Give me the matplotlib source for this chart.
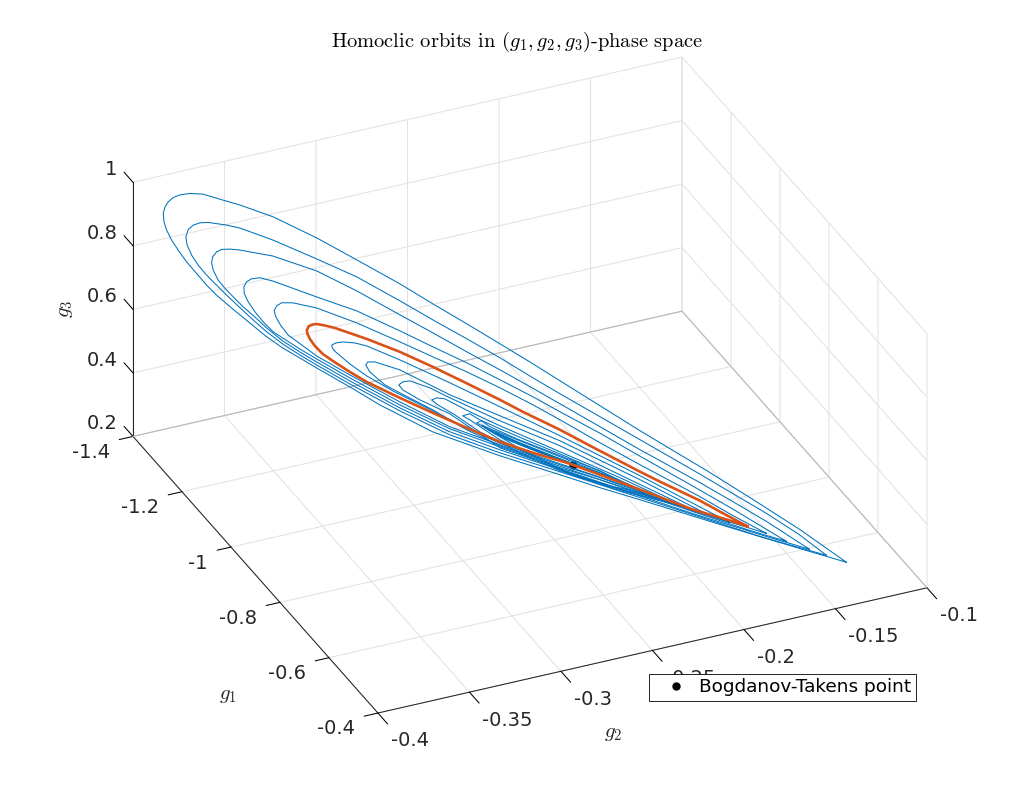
import matplotlib
matplotlib.use('Agg')
import matplotlib.pyplot as plt
from mpl_toolkits.mplot3d import Axes3D  # noqa

plt.rcParams['mathtext.fontset'] = 'cm'
plt.rcParams['axes.formatter.use_mathtext'] = True

BLUE = '#0072BD'
ORANGE = '#D95319'
DARK = '#262626'

g1_ticks = [-1.4, -1.2, -1.0, -0.8, -0.6, -0.4]
g1_labels = ['-1.4', '-1.2', '-1', '-0.8', '-0.6', '-0.4']
g2_ticks = [-0.4, -0.35, -0.3, -0.25, -0.2, -0.15, -0.1]
g2_labels = ['-0.4', '-0.35', '-0.3', '-0.25', '-0.2', '-0.15', '-0.1']
g3_ticks = [0.2, 0.4, 0.6, 0.8, 1.0]
g3_labels = ['0.2', '0.4', '0.6', '0.8', '1']

# Bogdanov-Takens point
bt_g1 = [-0.8544]
bt_g2 = [-0.2328]
bt_g3 = [0.3664]

# orbits, from the tip over the top and back along the bottom
a_g1 = [-.5146, -.5729, -.6349, -.6882, -.7217, -.7713, -.8209, -.8705, -.904, -.9449, -.9858, -1.028, -1.0689, -1.1222, -1.1718, -1.2264, -1.2673, -1.2884, -1.3132, -1.3293, -1.3417, -1.35, -1.3562, -1.3603, -1.3624, -1.3616, -1.3582, -1.352, -1.3438, -1.3334, -1.321, -1.3086, -1.2962, -1.276, -1.2549, -1.2351, -1.214, -1.1929, -1.1718, -1.1309, -1.0937, -1.028, -.9449, -.8705, -.8209, -.7676, -.6634, -.5816, -.5146]
a_g2 = [-.1287, -.1465, -.1655, -.1819, -.1921, -.2073, -.2225, -.2377, -.248, -.2605, -.2731, -.286, -.2985, -.3149, -.3301, -.3468, -.3593, -.3658, -.3734, -.3783, -.3821, -.3847, -.3866, -.3878, -.3885, -.3882, -.3872, -.3853, -.3828, -.3796, -.3758, -.372, -.3682, -.362, -.3555, -.3495, -.343, -.3365, -.3301, -.3175, -.3061, -.286, -.2605, -.2377, -.2225, -.2062, -.1743, -.1492, -.1287]
a_g3 = [.2183, .2948, .3663, .4261, .4606, .5129, .5682, .6235, .6612, .7049, .7485, .7916, .8353, .8857, .9315, .9728, .9904, .9961, 1.0033, .9979, .9876, .9755, .9587, .9411, .9193, .8932, .8686, .8401, .8124, .7805, .7498, .7189, .6932, .6586, .6246, .5929, .5651, .5436, .522, .4816, .4424, .3884, .3521, .3273, .3099, .2941, .2614, .2371, .2183]

b_g1 = [-.5394, -.5729, -.6138, -.656, -.6969, -.7713, -.8209, -.8705, -.904, -.9449, -.9858, -1.028, -1.0689, -1.1222, -1.1718, -1.2264, -1.2673, -1.2838, -1.3066, -1.3169, -1.3252, -1.3314, -1.3343, -1.3327, -1.3272, -1.319, -1.3086, -1.2962, -1.2838, -1.2549, -1.2351, -1.214, -1.1929, -1.1718, -1.1309, -1.0689, -1.0069, -.9449, -.8705, -.8209, -.7056, -.6225, -.5394]
b_g2 = [-.1363, -.1465, -.1591, -.172, -.1845, -.2073, -.2225, -.2377, -.248, -.2605, -.2731, -.286, -.2985, -.3149, -.3301, -.3468, -.3593, -.3644, -.3714, -.3745, -.3771, -.379, -.3799, -.3794, -.3777, -.3752, -.372, -.3682, -.3644, -.3555, -.3495, -.343, -.3365, -.3301, -.3175, -.2985, -.2795, -.2605, -.2377, -.2225, -.1872, -.1617, -.1363]
b_g3 = [.2287, .2775, .3258, .3689, .411, .4845, .5336, .5825, .6171, .6608, .7013, .7412, .7818, .8322, .8654, .8994, .9179, .9196, .9173, .9112, .9, .8835, .8589, .8335, .8046, .777, .7504, .7247, .6991, .6435, .6087, .5777, .5531, .5315, .491, .4353, .389, .3615, .3368, .3193, .2793, .2492, .2287]

c_g1 = [-.5605, -.6138, -.656, -.6969, -.7713, -.8209, -.8705, -.904, -.9449, -.9858, -1.028, -1.0689, -1.1222, -1.1718, -1.2264, -1.2673, -1.2797, -1.29, -1.2962, -1.3012, -1.3024, -1.3004, -1.2942, -1.2859, -1.2756, -1.2632, -1.2487, -1.2326, -1.214, -1.1929, -1.1718, -1.1309, -1.0689, -1.0069, -.9449, -.8705, -.8209, -.7056, -.6225, -.5605]
c_g2 = [-.1427, -.1591, -.172, -.1845, -.2073, -.2225, -.2377, -.248, -.2605, -.2731, -.286, -.2985, -.3149, -.3301, -.3468, -.3593, -.3631, -.3663, -.3682, -.3697, -.3701, -.3695, -.3676, -.365, -.3619, -.3581, -.3536, -.3487, -.343, -.3365, -.3301, -.3175, -.2985, -.2795, -.2605, -.2377, -.2225, -.1872, -.1617, -.1427]
c_g3 = [.2376, .3006, .3437, .3842, .453, .5021, .551, .584, .623, .6603, .7003, .7377, .7881, .8276, .849, .8486, .8459, .8401, .8295, .8115, .792, .77, .7414, .7192, .6976, .6719, .6464, .6162, .5872, .5625, .5409, .5005, .4447, .3984, .371, .3431, .3256, .2825, .2555, .2376]

d_g1 = [-.589, -.656, -.6969, -.7713, -.8209, -.8705, -.904, -.9449, -.9858, -1.028, -1.0689, -1.1222, -1.1718, -1.2264, -1.2425, -1.2528, -1.259, -1.2624, -1.262, -1.257, -1.2487, -1.2384, -1.226, -1.214, -1.1929, -1.1718, -1.1309, -1.0689, -1.0069, -.9449, -.8705, -.8209, -.7056, -.6349, -.589]
d_g2 = [-.1515, -.172, -.1845, -.2073, -.2225, -.2377, -.248, -.2605, -.2731, -.286, -.2985, -.3149, -.3301, -.3468, -.3517, -.3549, -.3568, -.3578, -.3577, -.3562, -.3536, -.3505, -.3467, -.343, -.3365, -.3301, -.3175, -.2985, -.2795, -.2605, -.2377, -.2225, -.1872, -.1655, -.1515]
d_g3 = [.2493, .3201, .3606, .4325, .4816, .5258, .5573, .5915, .6257, .6562, .6873, .7251, .7457, .7703, .773, .7651, .7526, .7353, .7147, .6906, .663, .6364, .6107, .5966, .5719, .5504, .5099, .4542, .4079, .3804, .3494, .3351, .2888, .2623, .2493]

e_g1 = [-.6138, -.656, -.6969, -.7713, -.8209, -.8705, -.904, -.9449, -.9858, -1.028, -1.0689, -1.1222, -1.1718, -1.2016, -1.2156, -1.2218, -1.2248, -1.2227, -1.2169, -1.2074, -1.1904, -1.1718, -1.1309, -1.0689, -1.0069, -.9449, -.8705, -.8209, -.7056, -.6138]
e_g2 = [-.1591, -.172, -.1845, -.2073, -.2225, -.2377, -.248, -.2605, -.2731, -.286, -.2985, -.3149, -.3301, -.3392, -.3435, -.3454, -.3463, -.3457, -.3439, -.341, -.3358, -.3301, -.3175, -.2985, -.2795, -.2605, -.2377, -.2225, -.1872, -.1591]
e_g3 = [.2628, .2996, .3401, .4057, .4516, .5006, .5321, .5663, .5973, .6247, .6526, .6873, .711, .7134, .707, .6937, .6775, .6596, .6363, .6092, .5857, .5598, .5194, .4636, .4142, .3867, .3588, .3414, .2919, .2628]

# the highlighted orbit
f_g1 = [-.6374, -.6721, -.6969, -.7465, -.7713, -.8296, -.8705, -.9164, -.9449, -.9858, -1.028, -1.0689, -1.1098, -1.1495, -1.1619, -1.1718, -1.1768, -1.1818, -1.1842, -1.1836, -1.1805, -1.1743, -1.1644, -1.152, -1.1309, -1.1098, -1.0689, -1.028, -.9858, -.9449, -.904, -.8618, -.8209, -.7874, -.7056, -.6634, -.6374]
f_g2 = [-.1663, -.1769, -.1845, -.1997, -.2073, -.2252, -.2377, -.2518, -.2605, -.2731, -.286, -.2985, -.3111, -.3232, -.327, -.3301, -.3316, -.3331, -.3339, -.3337, -.3327, -.3308, -.3278, -.324, -.3175, -.3111, -.2985, -.286, -.2731, -.2605, -.248, -.2351, -.2225, -.2123, -.1872, -.1743, -.1663]
f_g3 = [.2737, .3046, .3275, .3639, .3837, .4334, .4691, .5041, .5285, .5611, .5932, .6211, .6427, .6586, .6606, .6606, .6567, .6496, .6359, .6252, .6093, .5902, .5696, .5535, .5288, .5072, .4762, .4483, .4209, .3962, .3808, .3692, .3508, .3351, .2951, .2835, .2737]

g_g1 = [-.6597, -.7713, -.8705, -.9449, -1.0069, -1.0689, -1.1098, -1.1247, -1.1396, -1.1483, -1.1532, -1.1526, -1.1483, -1.1309, -1.1098, -1.0776, -1.028, -.9858, -.9449, -.8705, -.7874, -.7056, -.6597]
g_g2 = [-.1731, -.2073, -.2377, -.2605, -.2795, -.2985, -.3111, -.3156, -.3202, -.3229, -.3244, -.3242, -.3229, -.3175, -.3111, -.3012, -.286, -.2731, -.2605, -.2377, -.2123, -.1872, -.1731]
g_g3 = [.2757, .3711, .4502, .5065, .5528, .5959, .6206, .623, .6192, .612, .6033, .5941, .5836, .554, .5261, .4942, .4546, .4193, .3915, .362, .3304, .2919, .2757]

h_g1 = [-.6845, -.7713, -.8705, -.9449, -1.0069, -1.0689, -1.0999, -1.1086, -1.1111, -1.1061, -1.0875, -1.0689, -1.028, -.9858, -.9449, -.8705, -.7874, -.6845]
h_g2 = [-.1807, -.2073, -.2377, -.2605, -.2795, -.2985, -.308, -.3107, -.3115, -.3099, -.3042, -.2985, -.286, -.2731, -.2605, -.2377, -.2123, -.1807]
h_g3 = [.2861, .3585, .4344, .4781, .515, .5644, .5749, .5708, .5602, .5405, .5084, .492, .4577, .4146, .3836, .3541, .3225, .2861]

i_g1 = [-.7031, -.7837, -.8705, -.9449, -1.0069, -1.0317, -1.0565, -1.0652, -1.0702, -1.0652, -1.0441, -1.0069, -.9759, -.9449, -.8705, -.7874, -.7031]
i_g2 = [-.1864, -.2111, -.2377, -.2605, -.2795, -.2871, -.2947, -.2974, -.2989, -.2974, -.2909, -.2795, -.27, -.2605, -.2377, -.2123, -.1864]
i_g3 = [.293, .3526, .4187, .4624, .5055, .5252, .5356, .5283, .5166, .5031, .4816, .4551, .4162, .3773, .3462, .3147, .293]

j_g1 = [-.7217, -.7961, -.8705, -.9449, -.9821, -1.0131, -1.023, -1.0292, -1.0218, -1.0007, -.9697, -.9201, -.8705, -.7961, -.7217]
j_g2 = [-.1921, -.2149, -.2377, -.2605, -.2719, -.2814, -.2845, -.2864, -.2841, -.2776, -.2681, -.2529, -.2377, -.2149, -.1921]
j_g3 = [.3, .3531, .3998, .4466, .4731, .4994, .4978, .4886, .4764, .4549, .4159, .3732, .3399, .3121, .3]

k_g1 = [-.7465, -.8085, -.8618, -.904, -.9449, -.9697, -.9821, -.9908, -.9821, -.9449, -.904, -.8618, -.8085, -.7465]
k_g2 = [-.1997, -.2187, -.2351, -.248, -.2605, -.2681, -.2719, -.2746, -.2719, -.2605, -.248, -.2351, -.2187, -.1997]
k_g3 = [.3103, .3535, .3881, .4124, .4371, .4537, .4668, .4564, .4479, .4025, .3714, .3409, .3188, .3103]

l_g1 = [-.7651, -.8209, -.8618, -.9238, -.9573, -.9672, -.9734, -.9635, -.9238, -.8618, -.8209, -.7651]
l_g2 = [-.2054, -.2225, -.2351, -.2541, -.2643, -.2674, -.2693, -.2662, -.2541, -.2351, -.2225, -.2054]
l_g3 = [.3173, .3634, .3834, .4155, .4376, .4518, .4426, .4315, .3903, .3377, .3225, .3173]

m_g1 = [-.7961, -.8581, -.9201, -.9573, -.9672, -.9573, -.9201, -.8581, -.7961]
m_g2 = [-.2149, -.2339, -.2529, -.2643, -.2674, -.2643, -.2529, -.2339, -.2149]
m_g3 = [.3436, .3773, .411, .4313, .4392, .425, .4016, .371, .3436]

n_g1 = [-.8209, -.8705, -.9201, -.9511, -.9598, -.9511, -.9201, -.8705, -.8209]
n_g2 = [-.2225, -.2377, -.2529, -.2624, -.2651, -.2624, -.2529, -.2377, -.2225]
n_g3 = [.354, .3777, .4047, .4247, .4301, .4184, .3984, .3746, .354]

o_g1 = [-.8457, -.8953, -.9387, -.9511, -.9387, -.8953, -.8457]
o_g2 = [-.2301, -.2453, -.2586, -.2624, -.2586, -.2453, -.2301]
o_g3 = [.3642, .3881, .4148, .4247, .4085, .3849, .3642]

blue_orbits = [(a_g1, a_g2, a_g3), (b_g1, b_g2, b_g3), (c_g1, c_g2, c_g3), (d_g1, d_g2, d_g3),
               (e_g1, e_g2, e_g3), (g_g1, g_g2, g_g3), (h_g1, h_g2, h_g3), (i_g1, i_g2, i_g3),
               (j_g1, j_g2, j_g3), (k_g1, k_g2, k_g3), (l_g1, l_g2, l_g3), (m_g1, m_g2, m_g3),
               (n_g1, n_g2, n_g3), (o_g1, o_g2, o_g3)]

fig = plt.figure(figsize=(10.24, 8), dpi=100)
ax = fig.add_axes([139.7 / 1024, 24.7 / 800, 760 / 1024, 760 / 800], projection='3d')
ax.set_proj_type('ortho')
ax.view_init(elev=30.5, azim=-24.2)
ax.set_box_aspect((597.6, 602, 295), zoom=1.147)
ax.computed_zorder = False
ax.patch.set_alpha(0)

ax.set_xlim(-1.4, -0.4, view_margin=0)
ax.set_ylim(-0.4, -0.1, view_margin=0)
ax.set_zlim(0.2, 1.0, view_margin=0)
ax.set_xticks(g1_ticks, g1_labels)
ax.set_yticks(g2_ticks, g2_labels)
ax.set_zticks(g3_ticks, g3_labels)
ax.tick_params(axis='x', labelsize=14, labelcolor=DARK, pad=4)
ax.tick_params(axis='y', labelsize=14, labelcolor=DARK, pad=7)
ax.tick_params(axis='z', labelsize=14, labelcolor=DARK, pad=-2.5)

# z axis on the left corner, as in the reference
ax.zaxis._axinfo['juggled'] = (1, 2, 0)

for axis in (ax.xaxis, ax.yaxis, ax.zaxis):
    axis.set_pane_color((1, 1, 1, 0))
    axis.line.set_color(DARK)
    axis.line.set_linewidth(0.75)
    axis._axinfo['grid'].update(color='#e2e2e2', linewidth=0.75)
    axis.pane.set_edgecolor('#dadada')
    axis.pane.set_linewidth(0.75)

ax.xaxis._axinfo['tick'].update(inward_factor=0.31, outward_factor=0, linewidth={True: 0.75, False: 0.75}, color=DARK)
ax.yaxis._axinfo['tick'].update(inward_factor=0.49, outward_factor=0, linewidth={True: 0.75, False: 0.75}, color=DARK)
ax.zaxis._axinfo['tick'].update(inward_factor=0, outward_factor=0.45, linewidth={True: 0.75, False: 0.75}, color=DARK)

for t in ax.get_xticklabels():
    t.set_ha('right')
    t.set_va('center')
for t in ax.get_yticklabels():
    t.set_ha('left')
    t.set_va('center')
for t in ax.get_zticklabels():
    t.set_ha('right')
    t.set_va('bottom')

# back edges of the floor are darker than the grid
ax.plot([g1_ticks[0], g1_ticks[0]], [g2_ticks[0], g2_ticks[-1]], [g3_ticks[0], g3_ticks[0]], color='#b8b8b8', lw=0.75, zorder=1, clip_on=False)
ax.plot([g1_ticks[0], g1_ticks[-1]], [g2_ticks[-1], g2_ticks[-1]], [g3_ticks[0], g3_ticks[0]], color='#b8b8b8', lw=0.75, zorder=1, clip_on=False)

ax.plot(bt_g1, bt_g2, bt_g3, 'o', color='k', ms=5, label='Bogdanov-Takens point', zorder=2)
for g1, g2, g3 in blue_orbits:
    ax.plot(g1, g2, g3, '-', color=BLUE, lw=0.75, zorder=3)
ax.plot(f_g1, f_g2, f_g3, '-', color=ORANGE, lw=1.9, zorder=4)

ax.set_title('Homoclic orbits in $(g_1,g_2,g_3)$-phase space', family='cmr10', fontsize=14.7, x=0.4958, y=1.03)

fig.text(228 / 1024, 1 - 695 / 800, '$g_1$', fontsize=15, ha='center', va='center', color=DARK)
fig.text(613 / 1024, 1 - 733 / 800, '$g_2$', fontsize=15, ha='center', va='center', color=DARK)
fig.text(65 / 1024, 1 - 309 / 800, '$g_3$', fontsize=15, rotation=90, ha='center', va='center', color=DARK)

leg = ax.legend(loc='center', bbox_to_anchor=(782.5 / 1024, 1 - 687.5 / 800), bbox_transform=fig.transFigure,
                fontsize=13.3, fancybox=False, framealpha=1, edgecolor='k', borderpad=0.235,
                handlelength=2.5, handletextpad=0.0, markerscale=1)
leg.get_frame().set_linewidth(0.6)

fig.savefig('out.png', dpi=100)
